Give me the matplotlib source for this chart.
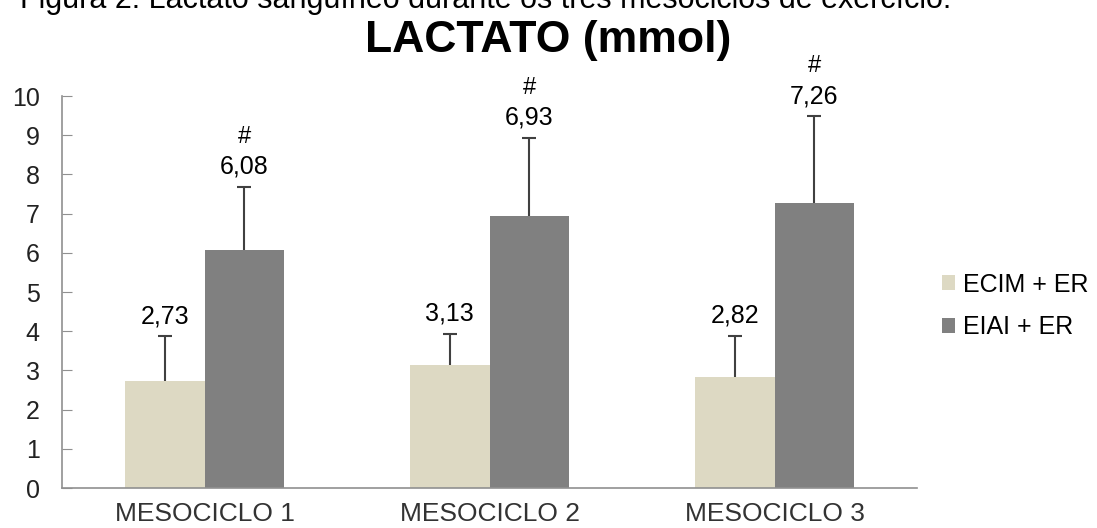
import numpy as np
import matplotlib.pyplot as plt

plt.rcParams['font.family'] = ['Liberation Sans', 'DejaVu Sans']

# dados
mesociclos = ["MESOCICLO 1", "MESOCICLO 2", "MESOCICLO 3"]
ecim = [2.73, 3.13, 2.82]
eiai = [6.08, 6.93, 7.26]
ecim_dp = [1.14, 0.80, 1.06]
eiai_dp = [1.60, 2.00, 2.22]
ecim_txt = ["2,73", "3,13", "2,82"]
eiai_txt = ["6,08", "6,93", "7,26"]

fig = plt.figure(figsize=(10.97, 5.28), dpi=100)
ax = fig.add_axes([62 / 1097, 40 / 528, 855 / 1097, 392 / 528])

x = np.arange(len(mesociclos))
w = 0.28
err_kw = dict(ecolor="#404040", elinewidth=1.5, capsize=4.7, capthick=1.5)
b1 = ax.bar(x - w / 2, ecim, w, color="#DDD9C3", label="ECIM + ER",
            yerr=[np.zeros(3), ecim_dp], error_kw=err_kw)
b2 = ax.bar(x + w / 2, eiai, w, color="#808080", label="EIAI + ER",
            yerr=[np.zeros(3), eiai_dp], error_kw=err_kw)

# so a barra de erro de cima (tira o cap de baixo)
for b, alt in [(b1, ecim), (b2, eiai)]:
    for cap in b.errorbar.lines[1]:
        if np.allclose(cap.get_ydata(), alt):
            cap.set_visible(False)

# rotulos dos valores
for i in range(len(x)):
    ax.annotate(ecim_txt[i], (x[i] - w / 2, ecim[i] + ecim_dp[i]),
                xytext=(0, 14.5), textcoords="offset points",
                ha="center", va="center", fontsize=18)
    ax.annotate(eiai_txt[i], (x[i] + w / 2, eiai[i] + eiai_dp[i]),
                xytext=(0, 14.5), textcoords="offset points",
                ha="center", va="center", fontsize=18)
    ax.annotate("#", (x[i] + w / 2, eiai[i] + eiai_dp[i]),
                xytext=(0, 36), textcoords="offset points",
                ha="center", va="center", fontsize=17)

ax.set_xlim(-0.5, 2.5)
ax.set_ylim(0, 10)
ax.set_yticks(range(0, 11))
ax.set_xticks(x)
ax.set_xticklabels(mesociclos, fontsize=19, color="#333333")
ax.tick_params(axis="x", length=0, pad=10)
ax.tick_params(axis="y", direction="in", length=7, color="#909090",
               labelsize=18, pad=16, labelcolor="#222222")
for s in ["top", "right"]:
    ax.spines[s].set_visible(False)
for s in ["left", "bottom"]:
    ax.spines[s].set_color("#909090")
    ax.spines[s].set_linewidth(1.2)

fig.legend(handles=[b1, b2], labels=["ECIM + ER", "EIAI + ER"],
           loc="center left", bbox_to_anchor=(942 / 1097, 1 - 306 / 528),
           bbox_transform=fig.transFigure, frameon=False, borderpad=0,
           borderaxespad=0, fontsize=18, handlelength=0.52, handleheight=0.52,
           handletextpad=0.32, labelspacing=0.76)

fig.text(548 / 1097, 1 - 52 / 528, "LACTATO (mmol)", ha="center",
         va="baseline", fontsize=32, fontweight="bold")
fig.text(20 / 1097, 1 - 8 / 528,
         "Figura 2. Lactato sanguíneo durante os três mesociclos de exercício.",
         ha="left", va="baseline", fontsize=22)

fig.savefig("out.png", dpi=100)
